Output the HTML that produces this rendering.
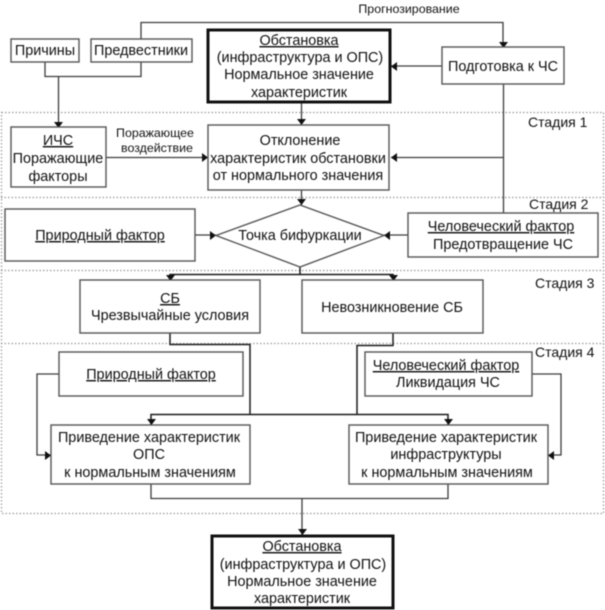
<!DOCTYPE html>
<html><head><meta charset="utf-8">
<style>
html,body{margin:0;padding:0;background:#fff;width:605px;height:610px;overflow:hidden}
svg{display:block;filter:blur(0.4px)}
text{font-family:"Liberation Sans",sans-serif;font-size:14.4px;fill:#111;text-anchor:middle}
.s{font-size:12.4px}
.st{font-size:14px;text-anchor:start}
.b{fill:#fff;stroke:#555;stroke-width:1.4}
.k{fill:#fff;stroke:#111;stroke-width:3}
.l{fill:none;stroke:#3c3c3c;stroke-width:1.3}
.m{fill:none;stroke:#1c1c1c;stroke-width:1.5}
.d{fill:none;stroke:#999;stroke-width:1.2;stroke-dasharray:1.5 2}
.a{fill:#111}
</style></head><body>
<svg width="605" height="610" viewBox="0 0 605 610" xmlns="http://www.w3.org/2000/svg">
<!-- stage regions -->
<rect class="d" x="1.5" y="112.5" width="602" height="401"/>
<path class="d" d="M1 197.5H604M1 270.5H604M1 343.5H604"/>
<!-- connectors -->
<path class="l" d="M141 39V22.5H503V46M45 62V76.5H141V62M58.500 76V127"/>
<path class="l" d="M442 66H391M503.500 84V213M503 157.500H391M106 157.500H208M301.500 102V125M301.500 190V205"/>
<path class="l" d="M195 235H216M408 235H384"/>
<path class="m" d="M300 267V274.500M170 280V274.500H393V280"/>
<path class="m" d="M170 333V344.500H250V414M393 333V345.500H357V414M151 425V414.500H448V425"/>
<path class="l" d="M59 374H37V455H51M532 374H561V455H548"/>
<path class="l" d="M151 484V498.500H448V484M302 498V535"/>
<!-- arrowheads -->
<path class="a" d="M54 122H63L58.500 128ZM499 42H508L503.500 48ZM297 119H306L301.500 125ZM297 199H306L301.500 205ZM166 275H175L170.500 281ZM389 275H398L393.500 281ZM147 419H156L151.500 425ZM444 419H453L448.500 425ZM298 529H307L302.500 535Z"/>
<path class="a" d="M202 153V162L208 157.500ZM210 231V240L216 235.500ZM45 451V460L51 455.500ZM397 62V71L391 66.500ZM397 153V162L391 157.500ZM390 231V240L384 235.500ZM554 451V460L548 455.500Z"/>
<!-- boxes -->
<rect class="b" x="11" y="39" width="68" height="23"/>
<rect class="b" x="91" y="39" width="101" height="23"/>
<rect class="k" x="208" y="30" width="182" height="72"/>
<rect class="b" x="442" y="47" width="122" height="37"/>
<rect class="b" x="11" y="127" width="95" height="60"/>
<rect class="b" x="208" y="125" width="181" height="65"/>
<rect class="b" x="5" y="209" width="190" height="52"/>
<polygon class="b" points="216,235.500 300,205 384,235.500 300,267"/>
<rect class="b" x="408" y="213" width="190" height="44"/>
<rect class="b" x="80" y="280" width="180" height="53"/>
<rect class="b" x="302" y="280" width="181" height="53"/>
<rect class="b" x="59" y="352" width="184" height="44"/>
<rect class="b" x="365" y="352" width="167" height="44"/>
<rect class="b" x="51" y="425" width="199" height="59"/>
<rect class="b" x="349" y="425" width="199" height="59"/>
<rect class="k" x="212" y="536" width="181" height="72"/>
<!-- labels -->
<text x="45" y="55">Причины</text>
<text x="141" y="55">Предвестники</text>
<text class="s" x="409" y="13">Прогнозирование</text>
<text x="299" y="45" text-decoration="underline">Обстановка </text>
<text x="300" y="62">(инфраструктура и ОПС)</text>
<text x="299" y="79">Нормальное значение</text>
<text x="299" y="97">характеристик</text>
<text x="503" y="71">Подготовка к ЧС</text>
<text class="st" x="528" y="127">Стадия 1</text>
<text class="st" x="529" y="209">Стадия 2</text>
<text class="st" x="535" y="288">Стадия 3</text>
<text class="st" x="535" y="357">Стадия 4</text>
<text x="58" y="145" text-decoration="underline">ИЧС</text>
<text x="58" y="163">Поражающие</text>
<text x="58" y="181">факторы</text>
<text class="s" x="155" y="137">Поражающее</text>
<text class="s" x="157" y="152">воздействие</text>
<text x="300" y="145">Отклонение</text>
<text x="298" y="163">характеристик обстановки</text>
<text x="298" y="180">от нормального значения</text>
<text x="100" y="240" text-decoration="underline">Природный фактор</text>
<text x="300" y="240">Точка бифуркации</text>
<text x="501" y="231" text-decoration="underline">Человеческий фактор</text>
<text x="503" y="249">Предотвращение ЧС</text>
<text x="170" y="303" text-decoration="underline">СБ</text>
<text x="170" y="320">Чрезвычайные условия</text>
<text x="392" y="312">Невозникновение СБ</text>
<text x="151" y="379" text-decoration="underline">Природный фактор</text>
<text x="446" y="370" text-decoration="underline">Человеческий фактор </text>
<text x="448" y="387">Ликвидация ЧС</text>
<text x="149" y="442">Приведение характеристик</text>
<text x="149" y="459">ОПС</text>
<text x="150" y="477">к нормальным значениям</text>
<text x="446" y="442">Приведение характеристик</text>
<text x="446" y="459">инфраструктуры</text>
<text x="447" y="477">к нормальным значениям</text>
<text x="302" y="551" text-decoration="underline">Обстановка </text>
<text x="303" y="569">(инфраструктура и ОПС)</text>
<text x="302" y="586">Нормальное значение</text>
<text x="302" y="603">характеристик</text>
</svg>
</body></html>
